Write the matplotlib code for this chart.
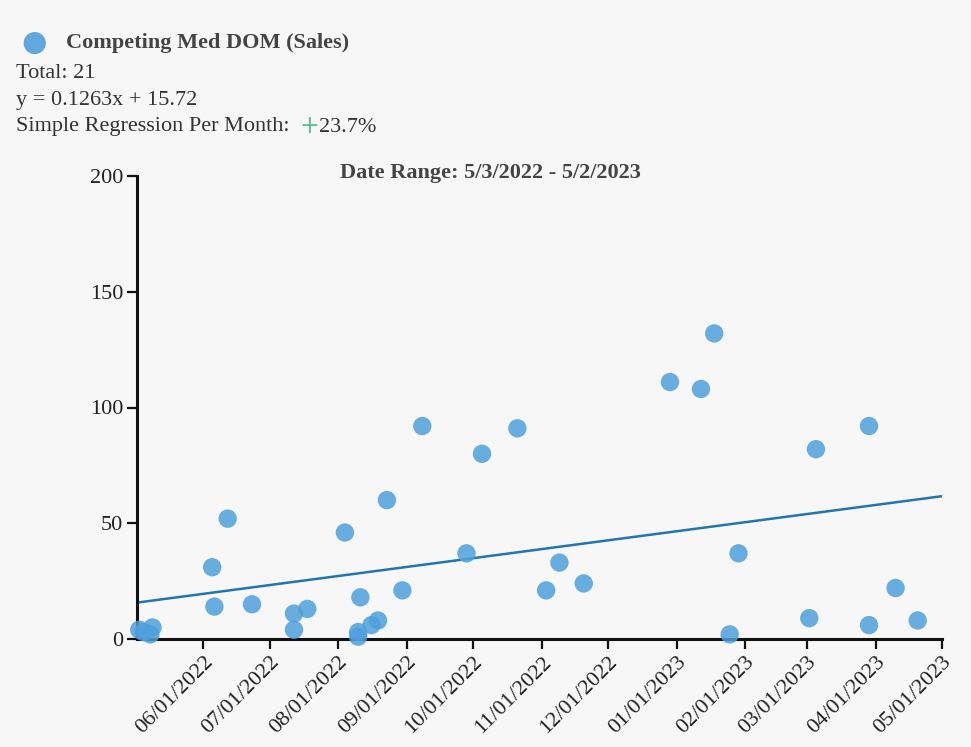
import matplotlib
matplotlib.use('Agg')
import matplotlib.pyplot as plt
import matplotlib.dates as mdates
import numpy as np
import datetime as dt

# data
sale_dates = ['2022-05-03', '2022-05-05', '2022-05-08', '2022-05-09', '2022-06-05',
              '2022-06-06', '2022-06-12', '2022-06-23', '2022-07-12', '2022-07-12',
              '2022-07-18', '2022-08-04', '2022-08-10', '2022-08-10', '2022-08-11',
              '2022-08-16', '2022-08-19', '2022-08-23', '2022-08-30', '2022-09-08',
              '2022-09-28', '2022-10-05', '2022-10-21', '2022-11-03', '2022-11-09',
              '2022-11-20', '2022-12-29', '2023-01-12', '2023-01-18', '2023-01-25',
              '2023-01-29', '2023-03-02', '2023-03-05', '2023-03-29', '2023-03-29',
              '2023-04-10', '2023-04-20']
dom_values = [4, 3, 2, 5, 31,
              14, 52, 15, 11, 4,
              13, 46, 3, 1, 18,
              6, 8, 60, 21, 92,
              37, 80, 91, 21, 33,
              24, 111, 108, 132, 2,
              37, 9, 82, 92, 6,
              22, 8]
slope = 0.1263
intercept = 15.72
start_date = dt.datetime(2022, 5, 2)
end_date = dt.datetime(2023, 5, 1)
y_ticks = [0, 50, 100, 150, 200]

series_name = 'Competing Med DOM (Sales)'
total_text = 'Total: 21'
eq_text = 'y = 0.1263x + 15.72'
reg_label = 'Simple Regression Per Month:'
reg_value = '23.7%'
title_text = 'Date Range: 5/3/2022 - 5/2/2023'

#______________________________________________________________________________

plt.rcParams['font.family'] = ['Liberation Serif', 'DejaVu Serif']
bg = '#f7f7f7'
dot_color = '#4fa0dc'
line_color = '#2176ae'
txt_color = '#333333'

W, H = 971, 747
fig = plt.figure(figsize=[W / 100, H / 100], dpi=100, facecolor=bg)
ax = fig.add_axes([137 / W, 1 - 639 / H, (942 - 137) / W, (639 - 176) / H])
ax.set_facecolor(bg)

xd = [dt.datetime.strptime(d, '%Y-%m-%d') for d in sale_dates]
ax.scatter(xd, dom_values, s=175, color=dot_color, alpha=0.85,
           edgecolors='none', zorder=3, clip_on=False)

days = np.array([0, (end_date - start_date).days])
line_x = [start_date + dt.timedelta(days=int(d)) for d in days]
ax.plot(line_x, slope * days + intercept, color=line_color, lw=1.8, zorder=2)

ax.set_xlim(start_date, end_date)
ax.set_ylim(0, 200)
ax.set_yticks(y_ticks)
ax.xaxis.set_major_locator(mdates.MonthLocator(bymonthday=1))
ax.xaxis.set_major_formatter(mdates.DateFormatter('%m/%d/%Y'))

for s in ['top', 'right']:
    ax.spines[s].set_visible(False)
for s in ['left', 'bottom']:
    ax.spines[s].set_linewidth(2.2)
    ax.spines[s].set_color('#111111')

ax.tick_params(axis='both', length=7, width=1.6, color='#111111',
               labelsize=16, labelcolor='#222222')
ax.tick_params(axis='y', pad=3)
ax.tick_params(axis='x', pad=3)
plt.setp(ax.get_xticklabels(), rotation=45, ha='right', va='top',
         rotation_mode='anchor')

# header block
def px(x, y):
    return x / W, 1 - y / H

fig.text(*px(34, 43), '\u25CF', color=dot_color, fontsize=21, ha='center',
         va='center', family='DejaVu Sans', alpha=0.9)
fig.text(*px(66, 43), series_name, fontsize=16, fontweight='bold',
         color='#444444', va='center')
fig.text(*px(16, 73), total_text, fontsize=16, color=txt_color, va='center')
fig.text(*px(16, 100), eq_text, fontsize=16, color=txt_color, va='center')
fig.text(*px(16, 127), reg_label, fontsize=16, color=txt_color, va='center')
fig.text(*px(309, 126), '+', fontsize=17, color='#5cbf95', va='center',
         ha='center', family='DejaVu Sans')
fig.text(*px(319, 127), reg_value, fontsize=16, color=txt_color, va='center')

fig.text(*px(490, 173), title_text, fontsize=16, fontweight='bold',
         color='#444444', ha='center', va='center')

plt.savefig('out.png', dpi=100, facecolor=bg)
